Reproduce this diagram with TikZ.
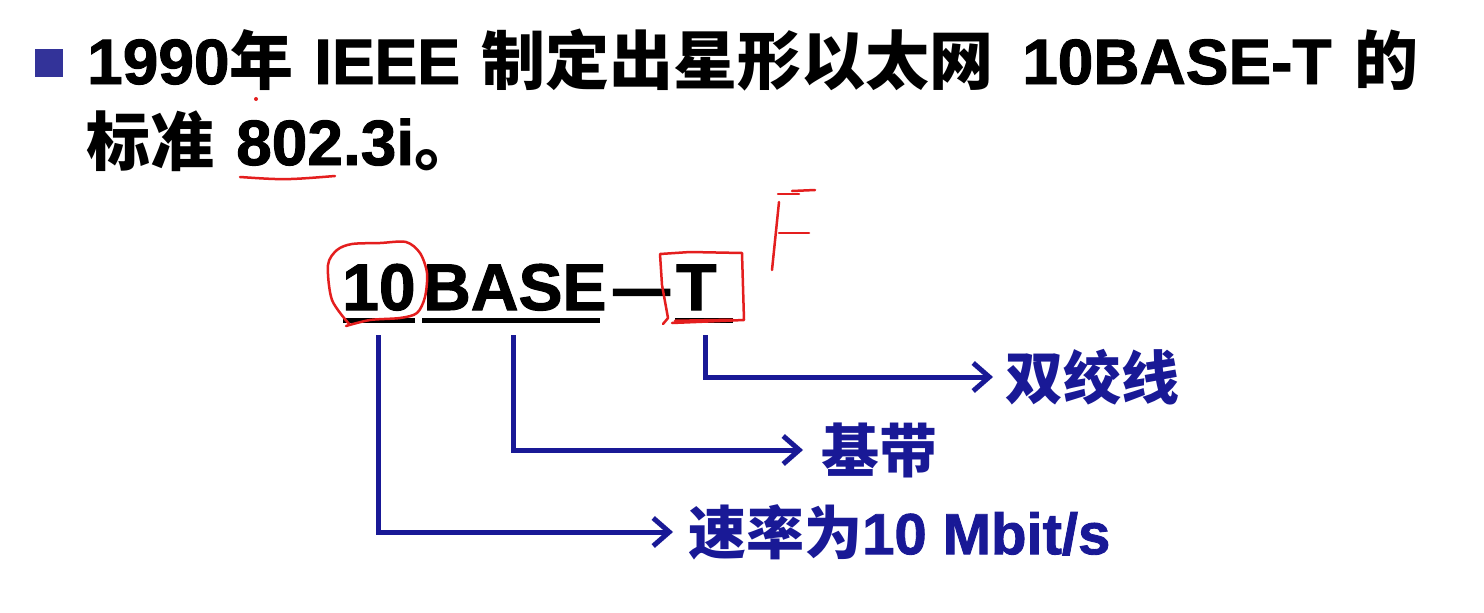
\documentclass[tikz,border=0pt]{standalone}
\usepackage{fontspec}
\setmainfont{Liberation Sans}[BoldFont={Liberation Sans Bold}]
\newfontfamily\latb{Liberation Sans Bold}[FakeBold=1.5]
\newfontfamily\cjk{Noto Sans CJK SC}
\usetikzlibrary{arrows.meta}
\definecolor{navy}{RGB}{25,25,150}
\definecolor{bulletc}{RGB}{51,51,153}
\definecolor{inkred}{RGB}{228,30,30}
\begin{document}
\begin{tikzpicture}[x=1pt,y=-1pt,
  title/.style={inner sep=0pt,anchor=base west,font=\fontsize{64}{70}\selectfont\latb},
  big/.style={inner sep=0pt,anchor=base west,font=\fontsize{66}{72}\selectfont\latb},
  lbl/.style={inner sep=0pt,anchor=west,text=navy,font=\fontsize{58}{64}\selectfont\latb},
  arr/.style={draw=navy,line width=5pt,-{Straight Barb[length=16pt,width=28pt]}},
  uline/.style={line width=5pt},
  pen/.style={draw=inkred,line width=2.5pt,line cap=round,line join=round}]
\fill[white] (0,0) rectangle (1484,613);
\useasboundingbox (0,0) rectangle (1484,613);
% bullet
\node[fill=bulletc,minimum size=28pt,inner sep=0pt] (bullet) at (49,63) {};
% title
\node[title] (t1) at (87,84) {1990{\cjk\bfseries 年}};
\node[title] (t2) at (314,84) {IEEE};
\node[title] (t3) at (481,84) {\cjk\bfseries 制定出星形以太网};
\node[title] (t4) at (1022,84) {10BASE-T};
\node[title] (t5) at (1354,84) {\cjk\bfseries 的};
\node[title] (t6) at (86,165) {\cjk\bfseries 标准};
\node[title] (t7) at (236,165) {802.3i{\cjk\bfseries 。}};
% main term
\node[big] (ten) at (342,310) {10};
\node[big] (base) at (423,310) {BASE};
\node[big] (dash) at (613,310) {\scalebox{0.86}[1]{—}};
\node[big] (tee) at (676,310) {T};
\draw[uline] (343,320) -- (415,320);
\draw[uline] (422,320) -- (600,320);
\draw[uline] (675,320) -- (733,320);
% connector starts
\coordinate (s10) at (378,335);
\coordinate (sbase) at (513,335);
\coordinate (st) at (705,335);
% labels
\node[lbl] (twist) at (1005,377) {\cjk\bfseries 双绞线};
\node[lbl] (band) at (821,450) {\cjk\bfseries 基带};
\node[lbl] (rate) at (688,532) {{\cjk\bfseries 速率为}10 Mbit/s};
% connectors
\draw[arr] (st) |- ([xshift=-12pt]twist.west);
\draw[arr] (sbase) |- ([xshift=-18pt]band.west);
\draw[arr] (s10) |- ([xshift=-15pt]rate.west);
% red annotations
\draw[pen] plot[smooth] coordinates {(350,325) (332,300) (328,265) (337,250) (352,244) (380,243) (406,242) (420,253) (427,273) (425,297) (417,313) (400,318) (370,320) (346,326)};
\draw[pen] (663,324) -- (668,318) -- (662,285) -- (660,254) -- (690,252) -- (742,253) -- (744,320) -- (672,323);
\draw[pen,line width=3pt] (675,321) -- (733,320);
\draw[pen] (779,202) -- (772,270);
\draw[pen] (778,194) -- (799,194);
\draw[pen] (792,191) -- (815,190);
\draw[pen] (779,233) -- (809,233);
\draw[pen] (240,177) .. controls (285,180) .. (335,176);
\fill[inkred] (256,99) circle (2pt);
\end{tikzpicture}
\end{document}
